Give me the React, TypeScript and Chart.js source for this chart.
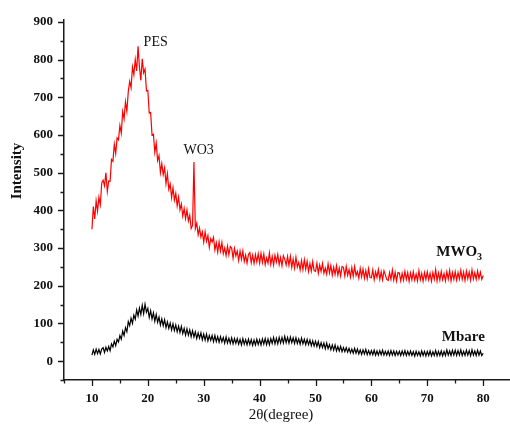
import React, { useEffect, useRef } from "react";
import { Chart, registerables } from "chart.js";

Chart.register(...registerables);

// Diffraction scan: 2θ from 10° to 80° in 0.25° steps
const SCAN_START = 10;
const SCAN_STEP = 0.25;

// MWO3 membrane intensity (counts), one row per 5°
const mwo3Intensity = [
  350, 410, 377, 425, 398, 435, 415, 473, 480, 465, 500, 450, 478, 477, 535, 530, 575, 551, 592, 587,
  625, 605, 662, 643, 688, 663, 715, 742, 725, 780, 760, 800, 770, 835, 780, 745, 802, 765, 775, 717,
  718, 658, 660, 600, 602, 554, 578, 532, 545, 500, 524, 495, 513, 471, 497, 456, 470, 434, 460, 427,
  445, 412, 435, 401, 417, 385, 405, 378, 401, 372, 387, 352, 360, 528, 352, 366, 335, 353, 329, 343,
  316, 343, 318, 333, 302, 325, 316, 328, 295, 314, 289, 316, 292, 315, 285, 300, 280, 305, 282, 304,
  300, 273, 299, 279, 292, 267, 292, 270, 292, 264, 281, 260, 283, 288, 261, 281, 259, 283, 263, 285,
  260, 286, 262, 284, 256, 274, 260, 287, 257, 278, 255, 281, 263, 283, 256, 275, 253, 280, 270, 255,
  278, 254, 278, 249, 271, 247, 276, 250, 262, 242, 267, 243, 269, 244, 265, 238, 259, 239, 264, 240,
  238, 260, 233, 255, 238, 259, 233, 247, 231, 258, 234, 254, 228, 249, 230, 253, 228, 247, 226, 251,
  249, 226, 251, 228, 243, 223, 248, 225, 251, 227, 238, 220, 246, 224, 244, 220, 240, 219, 245, 222,
  221, 242, 216, 237, 222, 243, 217, 237, 216, 240, 229, 217, 214, 235, 217, 242, 215, 235, 213, 235,
  234, 213, 233, 215, 238, 217, 235, 212, 234, 216, 237, 215, 231, 213, 240, 216, 233, 212, 235, 217,
  237, 216, 233, 212, 235, 217, 243, 213, 234, 215, 238, 216, 232, 213, 237, 218, 241, 213, 235, 217,
  237, 215, 235, 218, 241, 217, 236, 214, 239, 219, 236, 215, 242, 218, 235, 217, 239, 219, 236, 217,
  227,
];

// Bare membrane intensity (counts), one row per 5°
const mbareIntensity = [
  16, 30, 18, 32, 20, 31, 19, 32, 36, 23, 37, 27, 39, 28, 46, 38, 53, 41, 58, 51,
  68, 58, 80, 68, 89, 78, 105, 94, 114, 100, 122, 111, 136, 120, 141, 124, 148, 126, 151, 130,
  140, 116, 134, 112, 128, 106, 124, 103, 117, 96, 112, 94, 110, 89, 104, 87, 101, 83, 99, 81,
  96, 78, 93, 76, 92, 73, 87, 69, 86, 69, 83, 65, 81, 64, 78, 60, 75, 61, 75, 57,
  72, 56, 72, 54, 68, 55, 68, 52, 68, 52, 65, 50, 65, 51, 63, 48, 64, 48, 61, 47,
  62, 46, 60, 47, 60, 45, 58, 43, 60, 45, 57, 43, 58, 44, 57, 42, 56, 43, 58, 44,
  57, 43, 59, 45, 60, 44, 59, 44, 60, 47, 63, 46, 61, 46, 63, 48, 63, 48, 66, 49,
  63, 48, 64, 49, 62, 47, 62, 47, 59, 45, 61, 46, 58, 44, 58, 44, 56, 41, 54, 40,
  53, 39, 52, 36, 49, 36, 48, 33, 48, 33, 44, 30, 43, 29, 43, 27, 39, 27, 39, 25,
  36, 25, 36, 24, 34, 22, 32, 21, 34, 21, 32, 19, 30, 18, 30, 19, 31, 17, 28, 17,
  28, 17, 29, 16, 27, 16, 28, 17, 29, 16, 26, 16, 27, 15, 28, 16, 27, 15, 26, 16,
  26, 15, 27, 16, 28, 15, 26, 16, 27, 15, 25, 13, 26, 15, 25, 14, 27, 15, 26, 14,
  26, 15, 27, 14, 25, 15, 28, 14, 26, 15, 27, 14, 26, 15, 30, 16, 27, 15, 29, 16,
  29, 15, 28, 16, 30, 15, 26, 15, 29, 16, 28, 14, 30, 16, 27, 15, 29, 16, 27, 15,
  21,
];

const X_MIN = 5;
const X_MAX = 84.8;
const Y_MIN = -50;
const Y_MAX = 905;
const xLabelTicks = [10, 20, 30, 40, 50, 60, 70, 80];
const yLabelTicks = [0, 100, 200, 300, 400, 500, 600, 700, 800, 900];

const SERIF = "'Liberation Serif', 'Times New Roman', serif";
const AXIS_COLOR = "#1a1a1a";

function toPoints(values: number[]) {
  return values.map((y, i) => ({ x: SCAN_START + i * SCAN_STEP, y }));
}

// Tick marks (major/minor) and peak/series annotations
const decorations = {
  id: "decorations",
  afterDraw(chart: any) {
    const { ctx, chartArea } = chart;
    const xs = chart.scales.x;
    const ys = chart.scales.y;
    ctx.save();
    ctx.strokeStyle = AXIS_COLOR;
    ctx.lineWidth = 1.3;
    ctx.beginPath();
    for (let v = 5; v <= 85; v += 5) {
      const px = Math.round(xs.getPixelForValue(v)) + 0.5;
      if (px > chart.width) continue;
      const len = v % 10 === 0 ? 6 : 3.5;
      ctx.moveTo(px, chartArea.bottom);
      ctx.lineTo(px, chartArea.bottom + len);
    }
    for (let v = -50; v <= 900; v += 50) {
      const py = Math.round(ys.getPixelForValue(v)) + 0.5;
      const len = v % 100 === 0 ? 6 : 3.5;
      ctx.moveTo(chartArea.left, py);
      ctx.lineTo(chartArea.left - len, py);
    }
    ctx.stroke();

    ctx.fillStyle = "#111";
    ctx.textBaseline = "middle";

    // peak labels
    ctx.font = `14px ${SERIF}`;
    ctx.textAlign = "center";
    ctx.fillText("PES", xs.getPixelForValue(21.4), ys.getPixelForValue(846));
    ctx.fillText("WO3", xs.getPixelForValue(29.1), ys.getPixelForValue(560));

    // series labels
    ctx.font = `bold 15px ${SERIF}`;
    ctx.textAlign = "left";
    const mx = xs.getPixelForValue(71.6);
    const my = ys.getPixelForValue(290);
    ctx.fillText("MWO", mx, my);
    const w = ctx.measureText("MWO").width;
    ctx.font = `bold 10px ${SERIF}`;
    ctx.fillText("3", mx + w, my + 6);
    ctx.font = `bold 15px ${SERIF}`;
    ctx.textAlign = "right";
    ctx.fillText("Mbare", xs.getPixelForValue(80.3), ys.getPixelForValue(64));

    // axis titles
    ctx.textAlign = "center";
    ctx.font = `15px ${SERIF}`;
    ctx.fillText("2θ(degree)", 281, 415);
    ctx.save();
    ctx.translate(17.5, 171);
    ctx.rotate(-Math.PI / 2);
    ctx.font = `bold 15px ${SERIF}`;
    ctx.fillText("Intensity", 0, 0);
    ctx.restore();

    ctx.restore();
  },
};

export default function App() {
  const canvasRef = useRef<HTMLCanvasElement | null>(null);

  useEffect(() => {
    const canvas = canvasRef.current;
    if (!canvas) return;
    const chart = new Chart(canvas, {
      type: "line",
      data: {
        datasets: [
          {
            label: "MWO3",
            data: toPoints(mwo3Intensity),
            borderColor: "#ff0000",
            borderWidth: 1.2,
            pointRadius: 0,
            tension: 0,
          },
          {
            label: "Mbare",
            data: toPoints(mbareIntensity),
            borderColor: "#000000",
            borderWidth: 1.2,
            pointRadius: 0,
            tension: 0,
          },
        ],
      },
      options: {
        responsive: false,
        animation: false,
        events: [],
        layout: { padding: { top: 20, left: 0, right: 0, bottom: 0 } },
        plugins: {
          legend: { display: false },
          tooltip: { enabled: false },
        },
        scales: {
          x: {
            type: "linear",
            min: X_MIN,
            max: X_MAX,
            grid: { display: false, drawTicks: false },
            border: { display: true, color: AXIS_COLOR, width: 1.5 },
            afterFit: (scale: any) => {
              scale.height = 46;
            },
            ticks: {
              stepSize: 5,
              autoSkip: false,
              maxRotation: 0,
              includeBounds: false,
              padding: 11,
              color: "#111",
              font: { family: SERIF, size: 13, weight: "bold" },
              callback: (v: any) => (xLabelTicks.includes(Number(v)) ? String(v) : ""),
            },
          },
          y: {
            type: "linear",
            min: Y_MIN,
            max: Y_MAX,
            grid: { display: false, drawTicks: false },
            border: { display: true, color: AXIS_COLOR, width: 1.5 },
            afterFit: (scale: any) => {
              scale.width = 64;
            },
            ticks: {
              stepSize: 50,
              autoSkip: false,
              includeBounds: false,
              padding: 11,
              color: "#111",
              font: { family: SERIF, size: 13, weight: "bold" },
              callback: (v: any) => (yLabelTicks.includes(Number(v)) ? String(v) : ""),
            },
          },
        },
      },
      plugins: [decorations],
    } as any);
    return () => chart.destroy();
  }, []);

  return (
    <div style={{ position: "absolute", left: 0, top: 0, width: 510, height: 426, background: "#fff" }}>
      <canvas ref={canvasRef} width={510} height={426} style={{ display: "block" }} />
    </div>
  );
}
